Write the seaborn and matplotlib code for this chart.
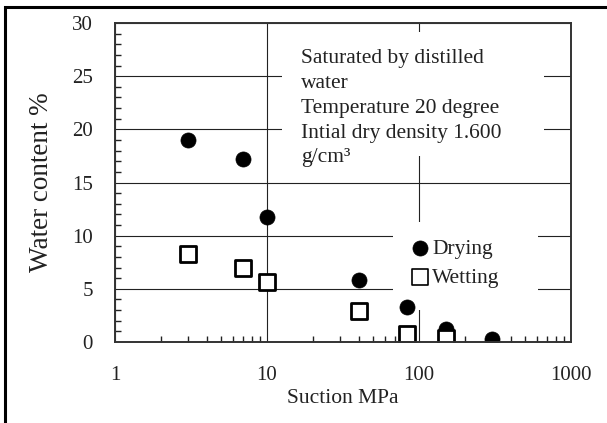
import matplotlib
matplotlib.use("Agg")
import matplotlib.pyplot as plt
from matplotlib.patches import Rectangle
from matplotlib.ticker import LogLocator, FixedLocator, NullFormatter, MultipleLocator
import seaborn as sns
import pandas as pd

# ---- data ----
drying_suction = [3, 7, 10, 40, 84, 150, 300]
drying_wc = [19.0, 17.2, 11.8, 5.8, 3.3, 1.2, 0.25]
wetting_suction = [3, 7, 10, 40, 83, 150]
wetting_wc = [8.3, 7.0, 5.6, 2.95, 0.75, 0.4]
x_ticks = [1, 10, 100, 1000]
x_tick_labels = ["1", "10", "100", "1000"]
y_ticks = [0, 5, 10, 15, 20, 25, 30]
note_lines = ["Saturated by distilled", "water", "Temperature 20 degree",
              "Intial dry density 1.600", "g/cm³"]

sns.set_theme(style="white")
plt.rcParams['font.family'] = ['Liberation Serif', 'DejaVu Serif']

df_d = pd.DataFrame({"suction": drying_suction, "wc": drying_wc})
df_w = pd.DataFrame({"suction": wetting_suction, "wc": wetting_wc})

fig = plt.figure(figsize=(6.07, 4.23), dpi=100)
ax = fig.add_axes([115/607, 1-342/423, (571-115)/607, (342-23)/423])

txt = "#222222"
sns.scatterplot(data=df_d, x="suction", y="wc", ax=ax, marker="o", s=118,
                color="black", edgecolor="black", linewidth=0.5, label="Drying", zorder=3)
sns.scatterplot(data=df_w, x="suction", y="wc", ax=ax, marker="s", s=118,
                facecolor="white", edgecolor="black", linewidth=2.0, label="Wetting", zorder=4)

ax.set_xscale("log")
ax.set_xlim(1, 1000)
ax.set_ylim(0, 30)
ax.xaxis.set_major_locator(FixedLocator(x_ticks))
ax.set_xticklabels(x_tick_labels)
ax.xaxis.set_minor_locator(LogLocator(base=10, subs=range(2, 10)))
ax.xaxis.set_minor_formatter(NullFormatter())
ax.yaxis.set_major_locator(FixedLocator(y_ticks))
ax.yaxis.set_minor_locator(MultipleLocator(1))

ax.grid(True, which="major", color="#222222", linewidth=0.8, zorder=0.5)
ax.set_axisbelow(True)

ax.tick_params(axis="both", which="both", direction="in", colors=txt,
               labelsize=15, top=False, right=False)
ax.tick_params(axis="y", which="minor", length=4.5, width=1.0, left=True)
ax.tick_params(axis="y", which="major", length=0, pad=16)
ax.tick_params(axis="x", which="minor", length=4, width=1.0, bottom=True)
ax.tick_params(axis="x", which="major", length=0, pad=17)

for sp in ax.spines.values():
    sp.set_color("#333333")
    sp.set_linewidth(1.4)
    sp.set_zorder(6)

ax.set_xlabel("Suction MPa", fontsize=15.5, color=txt, labelpad=3)
ax.set_ylabel("Water content %", fontsize=19.5, color=txt, labelpad=13)

# white background of note
ax.add_patch(Rectangle((0.366, 0.583), 0.575, 0.389, transform=ax.transAxes,
                       facecolor="white", edgecolor="none", zorder=2))
ax.text(0.408, 0.917, "\n".join(note_lines), transform=ax.transAxes,
        ha="left", va="top", fontsize=15.5, color=txt, linespacing=1.41, zorder=5)

# white background of legend
ax.add_patch(Rectangle((0.61, 0.10), 0.318, 0.276, transform=ax.transAxes,
                       facecolor="white", edgecolor="none", zorder=2))
leg = ax.legend(loc="center", bbox_to_anchor=(0.747, 0.246), frameon=False,
                fontsize=15.5, handlelength=0.8, handletextpad=0.15,
                labelspacing=0.42, borderpad=0.3, borderaxespad=0)
for t in leg.get_texts():
    t.set_color(txt)
leg.set_zorder(5)
leg.legend_handles[1].set_linewidth(1.2)

# outer border (top and left visible)
fig.patches.append(Rectangle((4.5/607, -0.1), 1.2, 1.1 - 7.5/423, transform=fig.transFigure,
                             facecolor="none", edgecolor="black", linewidth=2.2))

fig.savefig("out.png", dpi=100)
